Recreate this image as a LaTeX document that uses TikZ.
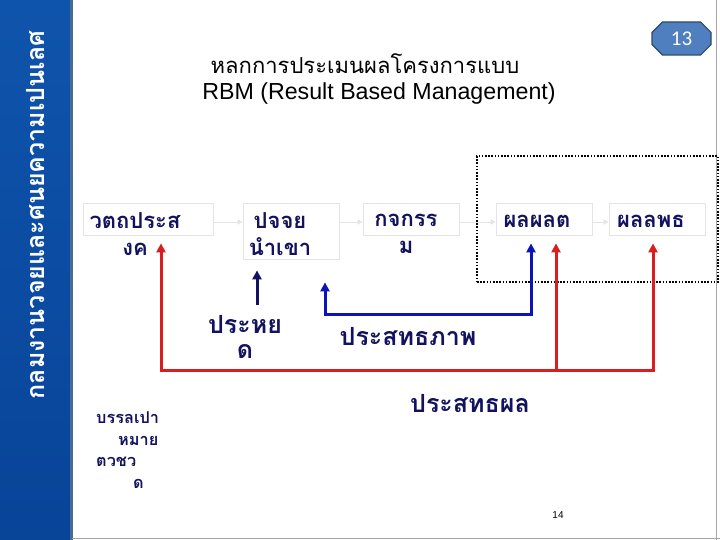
\documentclass[tikz,border=0pt]{standalone}
\usepackage{fontspec}
\setmainfont{Liberation Sans}
\newfontfamily\thai[Script=Thai]{Loma}
\newfontfamily\carl{Carlito}
\usetikzlibrary{shapes.misc,arrows.meta}
\definecolor{navytxt}{HTML}{12125E}
\definecolor{redln}{HTML}{D81E1E}
\definecolor{blueln}{HTML}{0A14B8}
\definecolor{paneltop}{HTML}{0F54AC}
\definecolor{panelbot}{HTML}{084498}
\definecolor{paneledge}{HTML}{4A6A94}
\definecolor{boxgray}{HTML}{E4E4E4}
\definecolor{badgefill}{HTML}{4F7FBE}
\definecolor{badgeedge}{HTML}{2E4A6E}
\tikzset{
  stagebox/.style={draw=boxgray, line width=0.8pt, inner sep=0pt},
  stagetxt/.style={text=navytxt, font=\thai\bfseries\fontsize{22}{27}\selectfont, align=center, inner sep=0pt},
  biglbl/.style={text=navytxt, font=\thai\bfseries\fontsize{25}{25}\selectfont, align=center, inner sep=0pt},
  flowarr/.style={draw=boxgray, line width=0.8pt, -{Triangle[length=5pt,width=5pt]}},
  thickarr/.style={line width=3pt, line join=miter, -{Triangle[length=9pt,width=9pt]}},
}
\begin{document}
\begin{tikzpicture}[x=1pt,y=-1pt]
\useasboundingbox (0,0) rectangle (720,540);
\fill[white] (0,0) rectangle (720,540);
% side panel
\shade[top color=paneltop, bottom color=panelbot] (0,0) rectangle (70,540);
\fill[paneledge] (70,0) rectangle (72.5,540);
\draw[gray!70, line width=1pt] (716.5,0) -- (716.5,540);
\draw[gray!70, line width=1pt] (72,538.5) -- (720,538.5);
\node[rotate=90, text=white, font=\thai\bfseries\fontsize{25}{28}\selectfont, inner sep=0pt] (side) at (36,215) {กลมงานวจยและศนยความเปนเลศ};
% title
\node[font=\thai\fontsize{22}{26}\selectfont, inner sep=0pt] (title1) at (365,64) {หลกการประเมนผลโครงการแบบ};
\node[font=\fontsize{23.2}{26}\selectfont, inner sep=0pt] (title2) at (379,94) {RBM (Result Based Management)};
% page badge
\node[chamfered rectangle, chamfered rectangle xsep=7pt, fill=badgefill, draw=badgeedge, line width=1.2pt, text=white, font=\carl\fontsize{21}{24}\selectfont, minimum width=59pt, minimum height=33pt, inner sep=0pt] (badge) at (681.5,38.5) {13};
% group
\node[draw=black, line width=1.6pt, dash pattern=on 1.6pt off 1.6pt, minimum width=241pt, minimum height=126pt, inner sep=0pt] (grp) at (597.5,219) {};
% stage boxes
\node[stagebox, minimum width=130pt, minimum height=32pt] (b1) at (148,219) {};
\node[stagebox, minimum width=96pt, minimum height=56pt] (b2) at (291,231) {};
\node[stagebox, minimum width=96pt, minimum height=32pt] (b3) at (411,219) {};
\node[stagebox, minimum width=96pt, minimum height=32pt] (b4) at (544,219) {};
\node[stagebox, minimum width=96pt, minimum height=32pt] (b5) at (657,219) {};
% stage texts
\node[stagetxt] (t1) at (135,234) {วตถประส\\งค};
\node[stagetxt] (t2) at (280,234) {ปจจย\\นำเขา};
\node[stagetxt] (t3) at (406,234) {กจกรร\\ม};
\node[stagetxt] (t4) at (537,221) {ผลผลต};
\node[stagetxt] (t5) at (651,221) {ผลลพธ};
% flow arrows
\draw[flowarr] ([yshift=-3pt]b1.east) -- ([yshift=-3pt]b1.east -| b2.west);
\draw[flowarr] ([yshift=-3pt]b3.west -| b2.east) -- ([yshift=-3pt]b3.west);
\draw[flowarr] ([yshift=-3pt]b3.east) -- ([yshift=-3pt]b4.west);
\draw[flowarr] ([yshift=-3pt]b4.east) -- ([yshift=-3pt]b5.west);
% labels
\node[biglbl] (eco) at (245,337) {ประหย\\ด};
\node[biglbl] (eff) at (408,337) {ประสทธภาพ};
\node[biglbl] (effv) at (470,404) {ประสทธผล};
\node[text=navytxt, font=\thai\bfseries\fontsize{16.3}{21.5}\selectfont, align=left, inner sep=0pt, anchor=north west] (goal) at (96,412) {บรรลเปา\\\hspace*{22pt}หมาย\\ตวชว\\\hspace*{37pt}ด};
\node[font=\fontsize{10}{12}\selectfont, inner sep=0pt] (pnum) at (558,515) {14};
% economy arrow
\coordinate (ecoTail) at (257,305);
\draw[thickarr, draw=navytxt] (ecoTail) -- ([yshift=-11pt]ecoTail |- b2.south);
% efficiency arrow
\coordinate (effL) at (325,314);
\coordinate (effR) at (531,314);
\draw[thickarr, draw=blueln, {Triangle[length=9pt,width=9pt]}-{Triangle[length=9pt,width=9pt]}] ([yshift=-23pt]effL |- b2.south) -- (effL) -- (effR) -- ([yshift=-8pt]effR |- b4.south);
% effectiveness arrows
\coordinate (rA) at (161,370);
\coordinate (rB) at (556,370);
\coordinate (rC) at (653,370);
\draw[thickarr, draw=redln, {Triangle[length=9pt,width=9pt]}-{Triangle[length=9pt,width=9pt]}] ([yshift=-8pt]rA |- b1.south) -- (rA) -- (rC) -- ([yshift=-8pt]rC |- b5.south);
\draw[thickarr, draw=redln] (rB) -- ([yshift=-8pt]rB |- b4.south);
\end{tikzpicture}
\end{document}
